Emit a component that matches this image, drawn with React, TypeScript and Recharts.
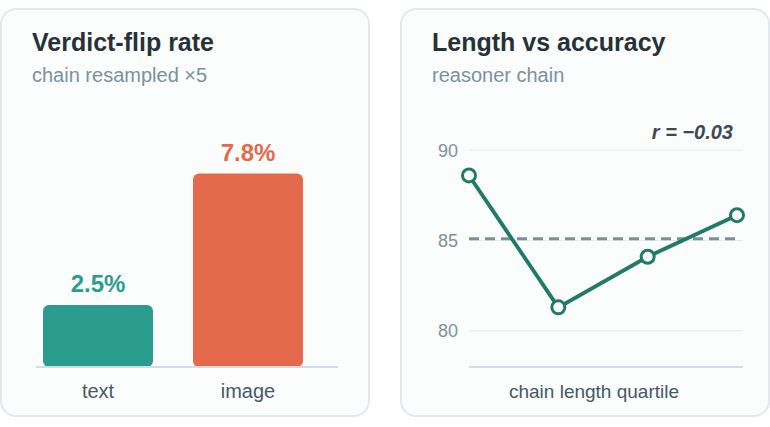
import React from "react";
import {
  BarChart,
  Bar,
  Cell,
  XAxis,
  YAxis,
  LineChart,
  Line,
  CartesianGrid,
  ReferenceLine,
  Label,
} from "recharts";

const flipCategories = ["text", "image"];
const flipRates = [2.5, 7.8];
const flipColors = ["#2a9d8f", "#e56a4c"];

const quartiles = ["Q1", "Q2", "Q3", "Q4"];
const accuracy = [88.6, 81.3, 84.1, 86.4];
const accuracyTicks = [80, 85, 90];
const accuracyDomain = [78, 92];
const correlation = "r = −0.03";

const FONT = '"Liberation Sans", Arial, Helvetica, sans-serif';
const LINE = "#1f7a68";

const flipData = flipCategories.map((name, i) => ({ name, rate: flipRates[i] }));
const accData = quartiles.map((q, i) => ({ q, acc: accuracy[i] }));
const meanAcc = accuracy.reduce((a, b) => a + b, 0) / accuracy.length;

function Card({ left }: { left: number }) {
  return (
    <div
      style={{
        position: "absolute",
        left,
        top: 8,
        width: 370,
        height: 409,
        boxSizing: "border-box",
        border: "2px solid #e3e8ec",
        borderRadius: 16,
        background: "#fbfcfc",
      }}
    />
  );
}

function Heading({ left, title, subtitle }: { left: number; title: string; subtitle: string }) {
  return (
    <>
      <div
        style={{
          position: "absolute",
          left,
          top: 30,
          fontSize: 25,
          lineHeight: "25px",
          fontWeight: 700,
          color: "#263238",
          whiteSpace: "nowrap",
        }}
      >
        {title}
      </div>
      <div
        style={{
          position: "absolute",
          left,
          top: 65,
          fontSize: 20,
          lineHeight: "20px",
          color: "#7d919c",
          whiteSpace: "nowrap",
        }}
      >
        {subtitle}
      </div>
    </>
  );
}

const barLabel = (p: any) => {
  const { x, y, width, value, index } = p;
  return (
    <text
      x={x + width / 2}
      y={y - 13}
      textAnchor="middle"
      fill={flipColors[index]}
      fontSize={24}
      fontWeight={700}
    >
      {`${value}%`}
    </text>
  );
};

// grid rows only at the tick values (no line at the top edge)
const gridRows = ({ offset }: any) => {
  const [lo, hi] = accuracyDomain;
  return accuracyTicks.map((t) => offset.top + ((hi - t) / (hi - lo)) * offset.height);
};

export default function App() {
  return (
    <div
      style={{
        position: "absolute",
        left: 0,
        top: 0,
        width: 770,
        height: 427,
        background: "#ffffff",
        fontFamily: FONT,
      }}
    >
      <Card left={0} />
      <Card left={400} />
      <Heading left={32} title="Verdict-flip rate" subtitle="chain resampled ×5" />
      <Heading left={432} title="Length vs accuracy" subtitle="reasoner chain" />

      <div style={{ position: "absolute", left: 0, top: 100 }}>
        <BarChart
          width={370}
          height={317}
          data={flipData}
          margin={{ top: 19, right: 32, left: 36, bottom: 10 }}
        >
          <YAxis hide domain={[0, 10]} />
          <XAxis
            dataKey="name"
            interval={0}
            height={40}
            padding={{ left: -13, right: 15 }}
            tickLine={false}
            tickMargin={11}
            axisLine={{ stroke: "#d5dde2", strokeWidth: 2 }}
            tick={{ fill: "#455a64", fontSize: 20 }}
          />
          <Bar dataKey="rate" barSize={110} radius={6} isAnimationActive={false} label={barLabel}>
            {flipData.map((d, i) => (
              <Cell key={d.name} fill={flipColors[i]} />
            ))}
          </Bar>
        </BarChart>
      </div>

      <div style={{ position: "absolute", left: 400, top: 100 }}>
        <LineChart
          width={370}
          height={317}
          data={accData}
          margin={{ top: 14, right: 27, left: 0, bottom: 10 }}
        >
          <CartesianGrid
            vertical={false}
            stroke="#e6eaee"
            horizontalCoordinatesGenerator={gridRows}
          />
          <YAxis
            width={69}
            domain={accuracyDomain}
            ticks={accuracyTicks}
            tickLine={false}
            axisLine={false}
            tickMargin={5}
            tick={{ fill: "#7d919c", fontSize: 18 }}
          />
          <XAxis
            dataKey="q"
            height={40}
            tick={false}
            tickLine={false}
            padding={{ left: 0, right: 6 }}
            axisLine={{ stroke: "#d5dde2", strokeWidth: 2 }}
          >
            <Label
              value="chain length quartile"
              position="insideBottom"
              offset={9}
              dx={-12}
              fill="#455a64"
              fontSize={19}
            />
          </XAxis>
          <ReferenceLine
            segment={[
              { x: quartiles[0], y: meanAcc },
              { x: quartiles[quartiles.length - 1], y: meanAcc },
            ]}
            stroke="#78909c"
            strokeWidth={3}
            strokeDasharray="10 6"
          />
          <Line
            type="linear"
            dataKey="acc"
            stroke={LINE}
            strokeWidth={3.8}
            dot={{ r: 6.5, fill: "#ffffff", stroke: LINE, strokeWidth: 3 }}
            isAnimationActive={false}
          />
        </LineChart>
      </div>

      <div
        style={{
          position: "absolute",
          right: 37,
          top: 122,
          fontSize: 20,
          lineHeight: "20px",
          fontWeight: 700,
          fontStyle: "italic",
          color: "#3b4a54",
          whiteSpace: "nowrap",
        }}
      >
        {correlation}
      </div>
    </div>
  );
}
